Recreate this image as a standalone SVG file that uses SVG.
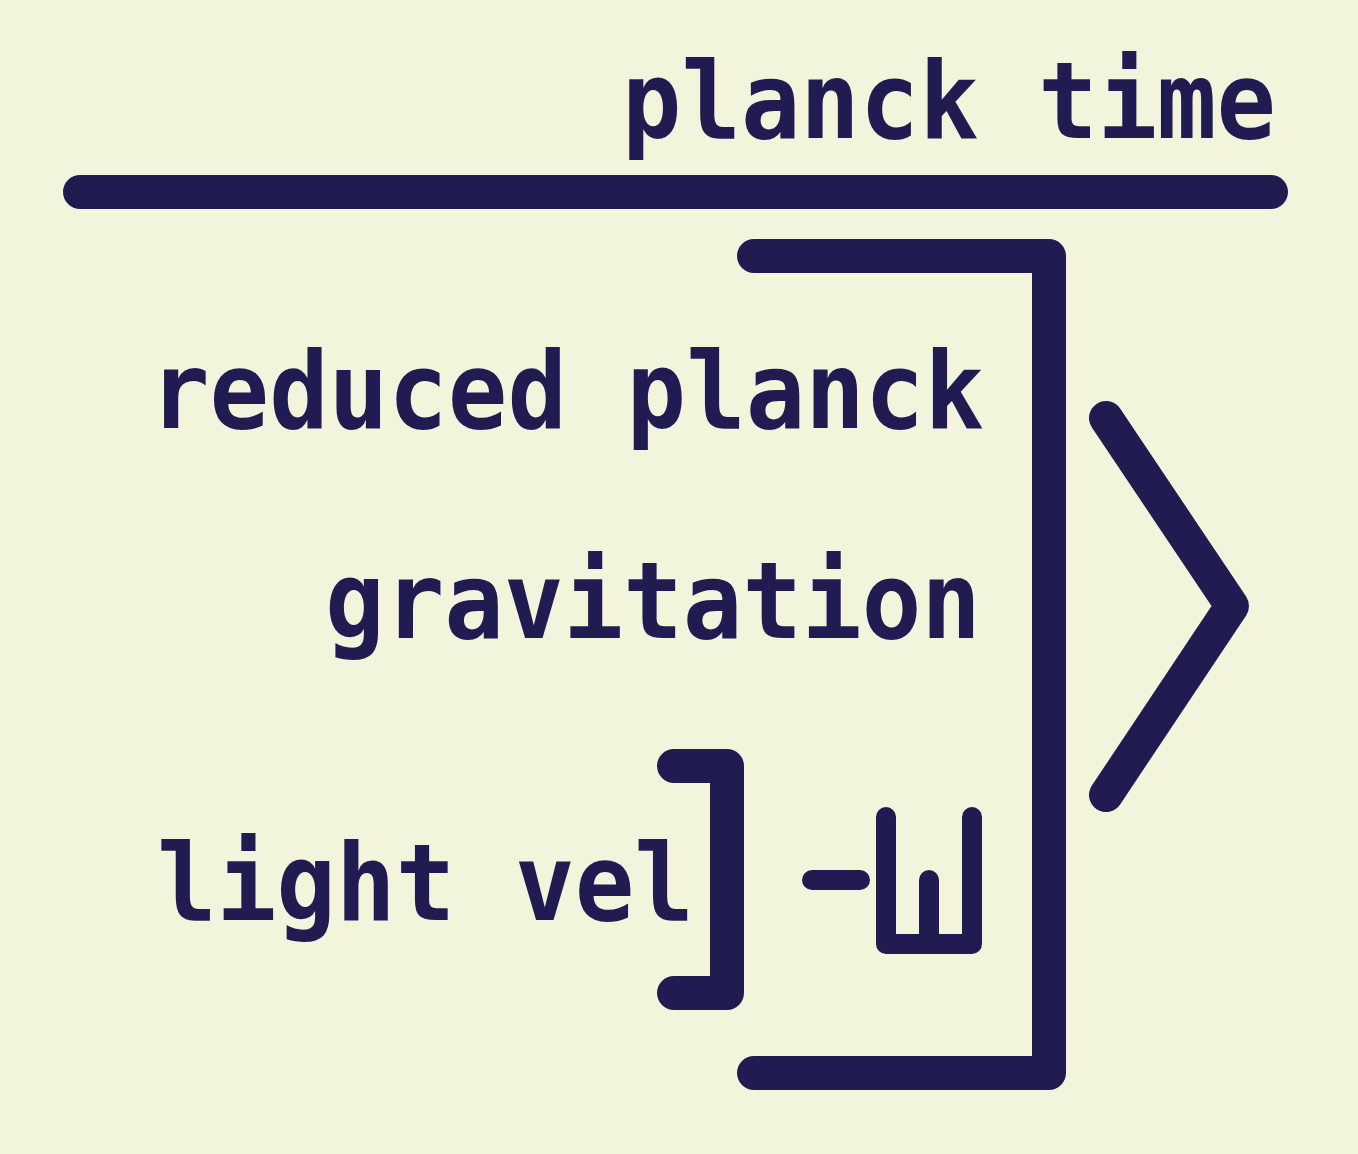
<svg xmlns="http://www.w3.org/2000/svg" width="1358" height="1154" viewBox="0 0 1358 1154">
<style>
.t{font-family:"DejaVu Sans Mono","Liberation Mono",monospace;font-weight:bold;font-size:107px;fill:#201c52}
.s{fill:none;stroke:#201c52;stroke-width:34;stroke-linecap:round;stroke-linejoin:round}
.w{fill:none;stroke:#201c52;stroke-width:20;stroke-linecap:round;stroke-linejoin:round}
</style>
<rect width="1358" height="1154" fill="#f3f4dc"/>
<g id="title">
<text class="t" x="622" y="138" textLength="654" lengthAdjust="spacingAndGlyphs">planck time</text>
<line class="s" x1="80" y1="192" x2="1271" y2="192"/>
</g>
<g id="labels">
<text class="t" x="150" y="428" textLength="834" lengthAdjust="spacingAndGlyphs">reduced planck</text>
<text class="t" x="325" y="638" textLength="656" lengthAdjust="spacingAndGlyphs">gravitation</text>
<text class="t" x="157" y="920" textLength="537" lengthAdjust="spacingAndGlyphs">light vel</text>
</g>
<g id="connectors">
<path id="big-bracket" class="s" d="M754 256 H1049 V1073 H754"/>
<path id="chevron" class="s" d="M1106 418 L1232 606 L1106 795"/>
<path id="small-bracket" class="s" d="M674 766 H727 V993 H674"/>
</g>
<g id="glyph">
<line class="w" x1="812" y1="880" x2="860" y2="880"/>
<path class="w" d="M886 817 V944 H972 V817"/>
<path class="w" d="M929 880 V944"/>
</g>
</svg>
